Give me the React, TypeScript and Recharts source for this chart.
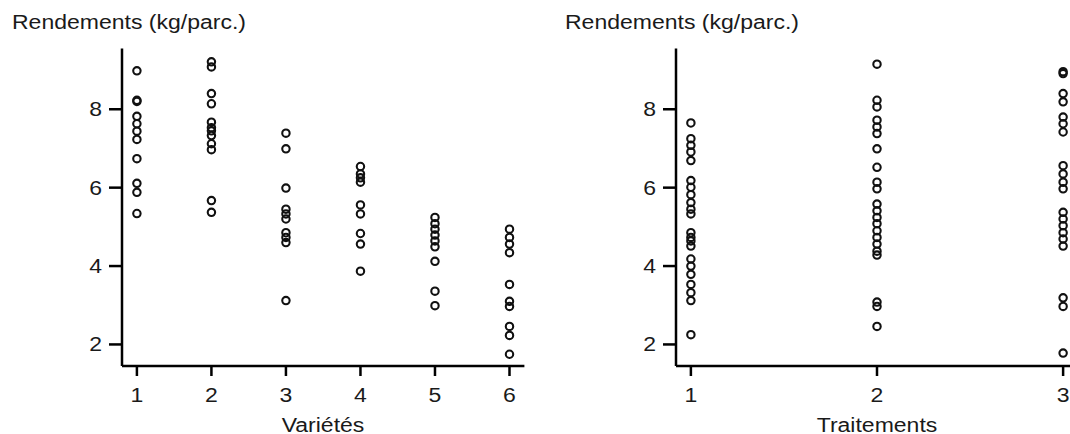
import { Scatter, ScatterChart, XAxis, YAxis } from "recharts";

// rendements par variété (kg/parcelle)
const variete1 = [8.98, 8.23, 8.2, 7.82, 7.63, 7.44, 7.23, 6.74, 6.11, 5.88, 5.34];
const variete2 = [9.21, 9.08, 8.4, 8.14, 7.67, 7.53, 7.45, 7.33, 7.12, 6.97, 5.67, 5.37];
const variete3 = [7.39, 6.99, 5.99, 5.45, 5.33, 5.2, 4.85, 4.73, 4.6, 3.12];
const variete4 = [6.54, 6.35, 6.25, 6.14, 5.56, 5.33, 4.83, 4.56, 3.87];
const variete5 = [5.24, 5.08, 4.94, 4.79, 4.64, 4.49, 4.12, 3.36, 2.99];
const variete6 = [4.94, 4.73, 4.56, 4.34, 3.53, 3.1, 2.97, 2.46, 2.23, 1.75];

// rendements par traitement
const traitement1 = [7.65, 7.25, 7.08, 6.91, 6.69, 6.18, 6.01, 5.82, 5.62, 5.45, 5.33, 4.85, 4.73, 4.64, 4.51, 4.18, 4.0, 3.79, 3.53, 3.32, 3.12, 2.25];
const traitement2 = [9.15, 8.23, 8.06, 7.72, 7.55, 7.38, 6.99, 6.52, 6.14, 5.97, 5.58, 5.41, 5.24, 5.08, 4.9, 4.73, 4.56, 4.38, 4.28, 3.08, 2.97, 2.46];
const traitement3 = [8.96, 8.91, 8.4, 8.19, 7.8, 7.63, 7.42, 6.56, 6.35, 6.14, 5.97, 5.37, 5.2, 5.03, 4.85, 4.69, 4.51, 3.19, 2.97, 1.78];

const varieteTicks = [1, 2, 3, 4, 5, 6];
const traitementTicks = [1, 2, 3];
const yTicks = [2, 4, 6, 8];

const yTitle = "Rendements (kg/parc.)";

const toPoints = (groups: number[][]) =>
  groups.flatMap((vals, i) => vals.map((y) => ({ x: i + 1, y })));

const varietePoints = toPoints([variete1, variete2, variete3, variete4, variete5, variete6]);
const traitementPoints = toPoints([traitement1, traitement2, traitement3]);

const FONT = "'Liberation Sans', Arial, Helvetica, sans-serif";
const STRETCH = 1.18;

const Ring = (props: any) => (
  <circle cx={props.cx} cy={props.cy} r={3.7} fill="none" stroke="#111" strokeWidth={2.1} />
);

const YTick = ({ x, y, payload }: any) => (
  <text
    transform={`translate(${x},${y}) scale(${STRETCH},1)`}
    textAnchor="end"
    dy="0.36em"
    fontSize={19.5}
    fontFamily={FONT}
    fill="#1a1a1a"
  >
    {payload.value}
  </text>
);

const XTick = ({ x, y, payload }: any) => (
  <text
    transform={`translate(${x},${y + 24}) scale(${STRETCH},1)`}
    textAnchor="middle"
    fontSize={19.5}
    fontFamily={FONT}
    fill="#1a1a1a"
  >
    {payload.value}
  </text>
);

const textStyle = {
  position: "absolute" as const,
  fontFamily: FONT,
  fontSize: 19.5,
  lineHeight: "19.5px",
  color: "#1a1a1a",
  whiteSpace: "nowrap" as const,
};

function Panel({
  data,
  ticks,
  domain,
  width,
  marginLeft,
  marginRight,
}: {
  data: { x: number; y: number }[];
  ticks: number[];
  domain: [number, number];
  width: number;
  marginLeft: number;
  marginRight: number;
}) {
  return (
    <ScatterChart
      width={width}
      height={434}
      margin={{ top: 48.5, right: marginRight, bottom: 38, left: marginLeft }}
    >
      <XAxis
        type="number"
        dataKey="x"
        domain={domain}
        ticks={ticks}
        allowDataOverflow
        height={30}
        tickSize={10}
        tickMargin={2}
        tick={<XTick />}
        axisLine={{ stroke: "#000", strokeWidth: 2.5 }}
        tickLine={{ stroke: "#000", strokeWidth: 2.5 }}
      />
      <YAxis
        type="number"
        dataKey="y"
        domain={[1.45, 9.55]}
        ticks={yTicks}
        allowDataOverflow
        width={40}
        tickSize={13}
        tickMargin={7}
        tick={<YTick />}
        axisLine={{ stroke: "#000", strokeWidth: 2.5 }}
        tickLine={{ stroke: "#000", strokeWidth: 2.5 }}
      />
      <Scatter data={data} shape={Ring} isAnimationActive={false} />
    </ScatterChart>
  );
}

export default function App() {
  return (
    <div
      style={{
        position: "absolute",
        left: 0,
        top: 0,
        width: 1070,
        height: 434,
        overflow: "hidden",
        background: "#fff",
      }}
    >
      <div style={{ position: "absolute", left: 0, top: 0 }}>
        <Panel
          data={varietePoints}
          ticks={varieteTicks}
          domain={[0.8, 6.2]}
          width={540}
          marginLeft={82}
          marginRight={15.6}
        />
      </div>
      <div style={{ position: "absolute", left: 560, top: 0 }}>
        <Panel
          data={traitementPoints}
          ticks={traitementTicks}
          domain={[0.92, 3.08]}
          width={530}
          marginLeft={76}
          marginRight={12}
        />
      </div>

      <div style={{ ...textStyle, left: 12, top: 12.5, transform: `scaleX(${STRETCH})`, transformOrigin: "left" }}>
        {yTitle}
      </div>
      <div style={{ ...textStyle, left: 565, top: 12.5, transform: `scaleX(${STRETCH})`, transformOrigin: "left" }}>
        {yTitle}
      </div>
      <div
        style={{
          ...textStyle,
          left: 323,
          top: 415.5,
          transform: `translateX(-50%) scaleX(${STRETCH})`,
        }}
      >
        Variétés
      </div>
      <div
        style={{
          ...textStyle,
          left: 877,
          top: 415.5,
          transform: `translateX(-50%) scaleX(${STRETCH})`,
        }}
      >
        Traitements
      </div>
    </div>
  );
}
